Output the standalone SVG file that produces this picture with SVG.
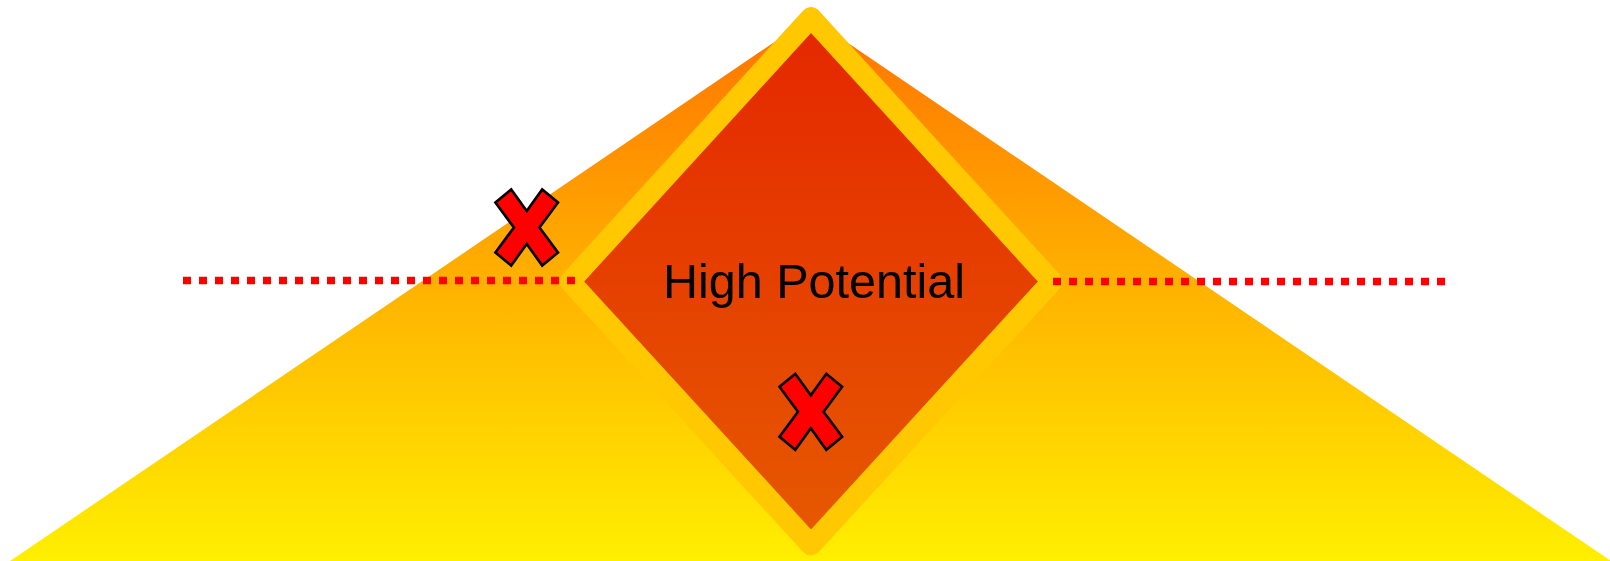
<svg xmlns="http://www.w3.org/2000/svg" width="1610" height="561" viewBox="0 0 1610 561">
  <defs>
    <linearGradient id="triGrad" x1="0" y1="17" x2="0" y2="561" gradientUnits="userSpaceOnUse">
      <stop offset="0" stop-color="#FF7200"/>
      <stop offset="0.5" stop-color="#FFB300"/>
      <stop offset="1" stop-color="#FFEF00"/>
    </linearGradient>
    <linearGradient id="diaGrad" x1="0" y1="33" x2="0" y2="530" gradientUnits="userSpaceOnUse">
      <stop offset="0" stop-color="#E52800"/>
      <stop offset="1" stop-color="#E65800"/>
    </linearGradient>
    <path id="xmark" d="M-31.3,-25 L-15.5,-38 L0,-16.5 L15.5,-38 L31.3,-25 L12.8,0 L31.3,25 L15.5,38 L0,16.5 L-15.5,38 L-31.3,25 L-12.8,0 Z"/>
    <style>
      .xm { fill: #FF0000; stroke: #000000; stroke-width: 2.6; stroke-linejoin: miter; }
      .dots { fill: none; stroke: #FF0000; stroke-width: 7.7; stroke-dasharray: 8 8; }
      .label { font-family: "Liberation Sans", Arial, sans-serif; font-size: 48.5px; fill: #000000; }
    </style>
  </defs>
  <g id="background-triangle">
    <polygon points="810.5,17.5 1611,561 10,561" fill="url(#triGrad)"/>
  </g>
  <g id="diamond">
    <polygon points="811,17.5 1052,281.5 811,545 570,281.5" fill="url(#diaGrad)" stroke="#FFC800" stroke-width="21" stroke-linejoin="round"/>
    <text class="label" x="814" y="298" text-anchor="middle">High Potential</text>
  </g>
  <g id="connectors">
    <line class="dots" x1="183" y1="280.5" x2="575" y2="280.5"/>
    <line class="dots" x1="1053" y1="281.5" x2="1445" y2="281.5"/>
  </g>
  <g id="cross-left">
    <use href="#xmark" class="xm" transform="translate(526.7,227.5)"/>
  </g>
  <g id="cross-center">
    <use href="#xmark" class="xm" transform="translate(810.8,411.8)"/>
  </g>
</svg>
